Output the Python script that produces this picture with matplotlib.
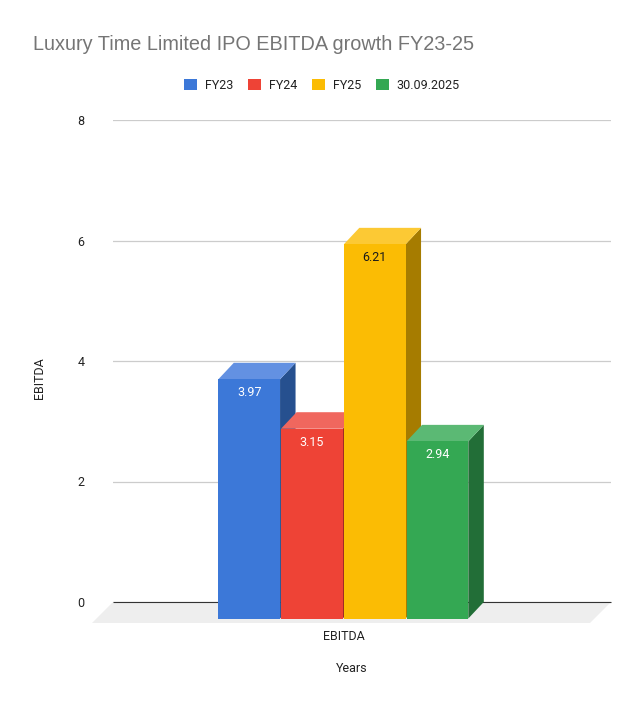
import matplotlib
matplotlib.use("Agg")
import matplotlib.pyplot as plt
from matplotlib.patches import Polygon, Patch

plt.rcParams['font.family'] = ['Roboto', 'DejaVu Sans']

# values
periods = ['FY23', 'FY24', 'FY25', '30.09.2025']
ebitda = [3.97, 3.15, 6.21, 2.94]
y_ticks = [0, 2, 4, 6, 8]

front_colors = ['#3c78d8', '#ee4336', '#fbbc04', '#34a853']
top_colors = ['#6391e2', '#f0675e', '#fcc934', '#5bb974']
side_colors = ['#26508f', '#9e2c24', '#a67c00', '#226e37']
label_colors = ['#ffffff', '#ffffff', '#1a1a1a', '#ffffff']

W, H = 644, 708
fig = plt.figure(figsize=(W / 100, H / 100), dpi=100)

# axes = back wall of the 3d box
left, right, top, bottom = 113, 611, 120, 602
ax = fig.add_axes([left / W, 1 - bottom / H, (right - left) / W, (bottom - top) / H])

px_x = 62.75  # one bar slot in pixels
px_y = (bottom - top) / 8
center = 343.8  # middle of the bars on the front plane
ax.set_xlim((left - center) / px_x, (right - center) / px_x)
ax.set_ylim(0, 8)

dx = 15.5 / px_x
dy = 16.5 / px_y
floor_dx = 21 / px_x
floor_dy = 21 / px_y

for s in ax.spines.values():
    s.set_visible(False)

ax.set_yticks(y_ticks)
ax.set_yticklabels([str(t) for t in y_ticks], fontsize=9, color='#222222')
ax.tick_params(axis='y', length=0, pad=20.5)
ax.grid(axis='y', color='#cccccc', linewidth=0.9)
ax.set_axisbelow(True)

x0, x1 = ax.get_xlim()
ax.add_patch(Polygon([(x0, 0), (x1, 0), (x1 - floor_dx, -floor_dy), (x0 - floor_dx, -floor_dy)],
                     closed=True, fc='#eeeeee', ec='none', clip_on=False, zorder=1.5))
ax.plot([x0, x1], [0, 0], color='#333333', lw=0.8, zorder=1.6, clip_on=False, solid_capstyle='butt')

n = len(ebitda)
for i, v in enumerate(ebitda):
    a = i - n / 2
    b = a + 1 - 1 / px_x
    z = 3 + i * 0.1
    yb = -dy
    yt = v - dy
    ax.add_patch(Polygon([(b, yb), (b + dx, 0), (b + dx, v), (b, yt)], closed=True,
                         fc=side_colors[i], ec='none', clip_on=False, zorder=z))
    ax.add_patch(Polygon([(a, yt), (a + dx, v), (b + dx, v), (b, yt)], closed=True,
                         fc=top_colors[i], ec='none', clip_on=False, zorder=z))
    ax.add_patch(Polygon([(a, yb), (b, yb), (b, yt), (a, yt)], closed=True,
                         fc=front_colors[i], ec='none', clip_on=False, zorder=z + 0.01))
    ax.text((a + b) / 2, yt - 13.5 / px_y, f'{v:.2f}', ha='center', va='center',
            fontsize=9, color=label_colors[i], zorder=5, clip_on=False)

ax.set_xticks([0])
ax.set_xticklabels(['EBITDA'], fontsize=9, color='#222222')
ax.tick_params(axis='x', length=0, pad=20)

fig.text(33 / W, 1 - 44.5 / H, 'Luxury Time Limited IPO EBITDA growth FY23-25',
         fontsize=14.3, color='#757575', ha='left', va='center',
         family=['Liberation Sans', 'DejaVu Sans'])
fig.text(351.5 / W, 1 - 668 / H, 'Years', fontsize=9, color='#222222', ha='center', va='center')
fig.text(39 / W, 1 - 378 / H, 'EBITDA', fontsize=9, color='#222222', rotation=90,
         ha='center', va='center')

handles = [Patch(fc=c, ec='none', label=p) for c, p in zip(front_colors, periods)]
leg = fig.legend(handles=handles, ncol=4, loc='center', bbox_to_anchor=(322 / W, 1 - 85.5 / H),
                 frameon=False, fontsize=9, handlelength=1.0, handleheight=1.0,
                 handletextpad=0.65, columnspacing=1.2, borderpad=0, labelcolor='#222222')

fig.savefig('out.png', dpi=100)
